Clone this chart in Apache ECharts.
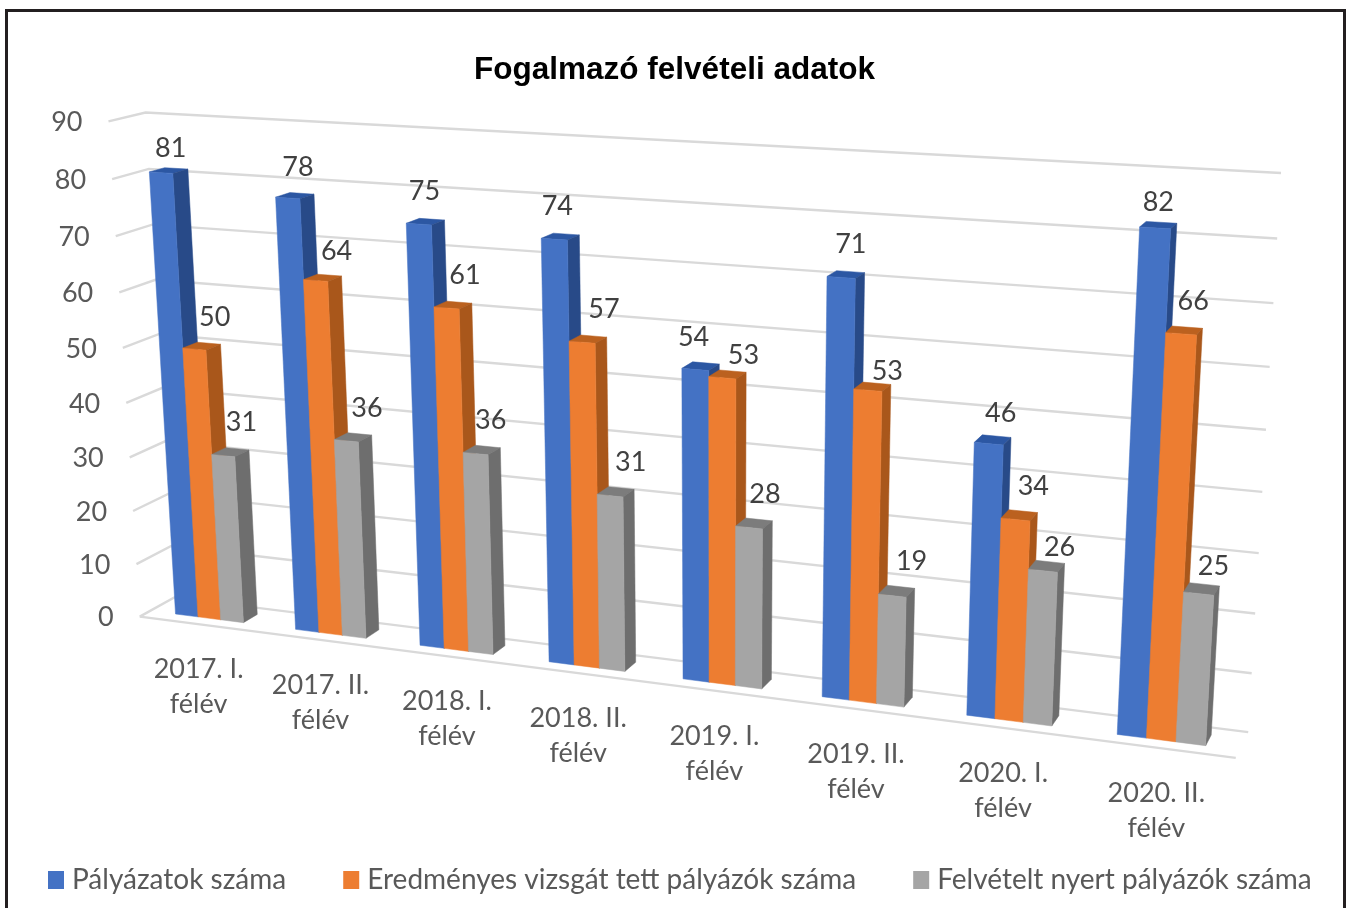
<!DOCTYPE html>
<html>
<head>
<meta charset="utf-8">
<style>html,body{margin:0;padding:0;background:#fff;overflow:hidden}#c{width:1349px;height:908px}</style>
<script src="https://cdn.jsdelivr.net/npm/echarts@6/dist/echarts.min.js"></script>
</head>
<body>
<div id="c"></div>
<script>
const categories = ['2017. I.\nfélév','2017. II.\nfélév','2018. I.\nfélév','2018. II.\nfélév','2019. I.\nfélév','2019. II.\nfélév','2020. I.\nfélév','2020. II.\nfélév'];
const palyazatok = [81,78,75,74,54,71,46,82];
const eredmenyes = [50,64,61,57,53,53,34,66];
const felvetelt = [31,36,36,31,28,19,26,25];
const yTicks = [0,10,20,30,40,50,60,70,80,90];
const seriesNames = ['Pályázatok száma','Eredményes vizsgát tett pályázók száma','Felvételt nyert pályázók száma'];

// Perspective camera calibration: box corners [u,v,d] -> screen
const CAL = [
  [0,0,0,140,616],[0,1,0,108,122],[0,0,1,174,598],[0,1,1,146,112],
  [1,0,1,1248,732],[1,1,1,1281,173],[1,0,0,1236,758]
];
function solve(A,b){
  const n=b.length,M=A.map((r,i)=>r.concat(b[i]));
  for(let i=0;i<n;i++){
    let p=i;for(let k=i+1;k<n;k++)if(Math.abs(M[k][i])>Math.abs(M[p][i]))p=k;
    [M[i],M[p]]=[M[p],M[i]];
    for(let k=0;k<n;k++){if(k===i)continue;const f=M[k][i]/M[i][i];for(let j=i;j<=n;j++)M[k][j]-=f*M[i][j];}
  }
  return M.map((r,i)=>r[n]/r[i]);
}
const CAM=(function(){
  const rows=[],rhs=[];
  CAL.forEach(([u,v,d,x,y])=>{
    rows.push([u,v,d,1,0,0,0,0,-x*u,-x*v,-x*d]);rhs.push(x);
    rows.push([0,0,0,0,u,v,d,1,-y*u,-y*v,-y*d]);rhs.push(y);
  });
  const N=11,A=[],b=[];
  for(let i=0;i<N;i++){A.push(new Array(N).fill(0));b.push(0);
    rows.forEach((r,k)=>{for(let j=0;j<N;j++)A[i][j]+=r[i]*r[j];b[i]+=r[i]*rhs[k];});
    A[i][i]+=1e-9;}
  return solve(A,b);
})();
function P(u,v,d){
  const m=CAM,w=m[8]*u+m[9]*v+m[10]*d+1;
  return [(m[0]*u+m[1]*v+m[2]*d+m[3])/w,(m[4]*u+m[5]*v+m[6]*d+m[7])/w];
}
// grid pixel -> normalised box coordinates
function norm(p,cs){return [(p[0]-cs.x)/cs.width,(cs.y+cs.height-p[1])/cs.height];}

const D0=0.30,D1=0.72,GROUP=0.57;
const FACE=[
  {front:'#4472c4',side:'#284a88',top:'#2c57a3'},
  {front:'#ed7d31',side:'#a9571b',top:'#bb611f'},
  {front:'#a5a5a5',side:'#6e6e6e',top:'#7c7c7c'}
];
// hand placement of the value labels, relative to the top of each bar
const LABEL_DX=[
  [2,3,-1,-3,-7,5,8,0],
  [13,14,12,16,16,15,14,9],
  [11,14,9,15,11,15,13,12]
];
const LABEL_DY=[
  [-22,-28,-30,-30,-29,-30,-27,-23],
  [-29,-27,-30,-30,-19,-15,-29,-29],
  [-30,-29,-30,-30,-29,-30,-19,-23]
];
function poly(pts,color){return {type:'polygon',shape:{points:pts},style:{fill:color,stroke:color,lineWidth:0.5}};}

function barRender(si){
  return function(params,api){
    const cs=params.coordSys,idx=api.value(0),val=api.value(1);
    const [uc,v]=norm(api.coord([idx,val]),cs);
    const du=api.size([1,0])[0]/cs.width*GROUP/3;
    const u0=uc+(si-1.5)*du,u1=u0+du;
    const f=FACE[si];
    const a=P(u0,0,D0),b=P(u1,0,D0),c=P(u1,v,D0),e=P(u0,v,D0);
    const b2=P(u1,0,D1),c2=P(u1,v,D1),e2=P(u0,v,D1);
    const mid=P(u0+du/2,v,(D0+D1)/2);
    return {type:'group',children:[
      poly([e,c,c2,e2],f.top),
      poly([b,c,c2,b2],f.side),
      poly([a,b,c,e],f.front),
      {type:'text',z2:20,style:{text:String(val),x:mid[0]+LABEL_DX[si][idx],y:mid[1]+LABEL_DY[si][idx],align:'center',verticalAlign:'middle',
        font:'27px Lato',fill:'#404040'}}
    ]};
  };
}
function gridRender(params,api){
  const cs=params.coordSys,val=api.value(0);
  const v=norm(api.coord([0,val]),cs)[1];
  const line='#d9d9d9';
  const a=P(0,v,0),b=P(0,v,1),c=P(1,v,1);
  const ch=[{type:'polyline',shape:{points:[a,b,c]},style:{fill:'none',stroke:line,lineWidth:2.4}},
    {type:'text',style:{text:String(val),x:a[0]-26,y:a[1]+1,align:'right',verticalAlign:'middle',font:'27px Lato',fill:'#595959'}}];
  if(val===0)ch.push({type:'line',shape:{x1:a[0],y1:a[1],x2:P(1,0,0)[0],y2:P(1,0,0)[1]},style:{stroke:line,lineWidth:2.4}});
  return {type:'group',children:ch};
}
function catRender(params,api){
  const cs=params.coordSys,idx=api.value(0);
  const u=norm(api.coord([idx,0]),cs)[0];
  const p=P(u,0,0);
  return {type:'text',style:{text:categories[idx],x:p[0]-0.5,y:p[1]+63,align:'center',verticalAlign:'middle',
    font:'27px Lato',lineHeight:35,fill:'#595959'}};
}
const values=[palyazatok,eredmenyes,felvetelt];
const chart=echarts.init(document.getElementById('c'),null,{renderer:'canvas'});
chart.setOption({
  animation:false,
  backgroundColor:'#fff',
  color:['#4472c4','#ed7d31','#a5a5a5'],
  title:{text:'Fogalmazó felvételi adatok',left:'center',top:49,textStyle:{fontFamily:'Liberation Sans',fontWeight:'bold',fontSize:31.5,color:'#000'}},
  legend:{left:48,top:866,icon:'rect',itemWidth:16,itemHeight:18,itemGap:57,padding:0,selectedMode:false,
    data:seriesNames,textStyle:{fontFamily:'Lato',fontSize:28,color:'#595959',padding:[0,0,0,3]}},
  grid:{left:100,right:100,top:100,bottom:300},
  xAxis:{type:'category',data:categories,show:false},
  yAxis:{type:'value',min:0,max:90,interval:10,show:false},
  graphic:[{type:'rect',shape:{x:6.5,y:10.5,width:1338,height:920},style:{fill:'none',stroke:'#231f20',lineWidth:3},silent:true}],
  series:[
    {type:'custom',name:'grid',z:1,coordinateSystem:'cartesian2d',encode:{y:0},data:yTicks.map(v=>[v]),renderItem:gridRender,silent:true},
    {type:'custom',name:'cat',z:1,coordinateSystem:'cartesian2d',encode:{x:0},data:categories.map((c,i)=>[i]),renderItem:catRender,silent:true}
  ].concat(seriesNames.map((n,si)=>({
    type:'custom',name:n,z:2,coordinateSystem:'cartesian2d',encode:{x:0,y:1},
    itemStyle:{color:FACE[si].front},
    data:values[si].map((v,i)=>[i,v]),renderItem:barRender(si)
  })))
});
</script>
</body>
</html>
